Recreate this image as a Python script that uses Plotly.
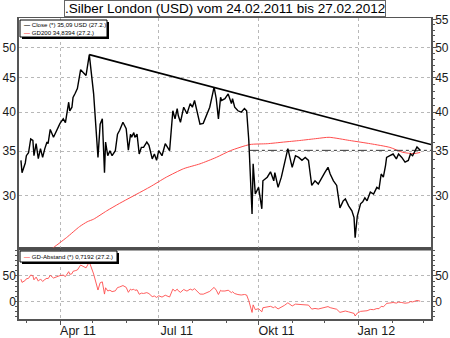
import math
import plotly.graph_objects as go

# ---------------- data ----------------
CLOSE_DATES = [
    "2011-02-24", "2011-02-25", "2011-02-28", "2011-03-01", "2011-03-03", "2011-03-05", "2011-03-07", "2011-03-08", "2011-03-10", "2011-03-12",
    "2011-03-14", "2011-03-16", "2011-03-18", "2011-03-20", "2011-03-21", "2011-03-23", "2011-03-26", "2011-03-27", "2011-03-30", "2011-04-01",
    "2011-04-04", "2011-04-06", "2011-04-09", "2011-04-10", "2011-04-12", "2011-04-13", "2011-04-15", "2011-04-17", "2011-04-20", "2011-04-22",
    "2011-04-25", "2011-04-28", "2011-05-02", "2011-05-06", "2011-05-08", "2011-05-10", "2011-05-12", "2011-05-13", "2011-05-15", "2011-05-17",
    "2011-05-19", "2011-05-22", "2011-05-24", "2011-05-26", "2011-05-29", "2011-06-01", "2011-06-03", "2011-06-05", "2011-06-06", "2011-06-08",
    "2011-06-09", "2011-06-11", "2011-06-13", "2011-06-15", "2011-06-17", "2011-06-20", "2011-06-22", "2011-06-25", "2011-06-27", "2011-06-29",
    "2011-07-01", "2011-07-04", "2011-07-07", "2011-07-11", "2011-07-13", "2011-07-14", "2011-07-16", "2011-07-18", "2011-07-19", "2011-07-21",
    "2011-07-24", "2011-07-27", "2011-07-30", "2011-08-01", "2011-08-03", "2011-08-05", "2011-08-08", "2011-08-11", "2011-08-14", "2011-08-17",
    "2011-08-21", "2011-08-23", "2011-08-25", "2011-08-27", "2011-08-28", "2011-08-31", "2011-09-03", "2011-09-06", "2011-09-07", "2011-09-09",
    "2011-09-12", "2011-09-15", "2011-09-18", "2011-09-20", "2011-09-22", "2011-09-25", "2011-09-26", "2011-09-28", "2011-10-01", "2011-10-04",
    "2011-10-05", "2011-10-09", "2011-10-12", "2011-10-15", "2011-10-16", "2011-10-19", "2011-10-22", "2011-10-25", "2011-10-28", "2011-11-01",
    "2011-11-04", "2011-11-07", "2011-11-10", "2011-11-13", "2011-11-16", "2011-11-19", "2011-11-22", "2011-11-25", "2011-11-28", "2011-12-01",
    "2011-12-04", "2011-12-06", "2011-12-09", "2011-12-12", "2011-12-15", "2011-12-18", "2011-12-20", "2011-12-23", "2011-12-26", "2011-12-28",
    "2011-12-29", "2011-12-31", "2012-01-03", "2012-01-05", "2012-01-07", "2012-01-09", "2012-01-12", "2012-01-15", "2012-01-18", "2012-01-20",
    "2012-01-22", "2012-01-24", "2012-01-26", "2012-01-27", "2012-01-30", "2012-02-02", "2012-02-05", "2012-02-07", "2012-02-10", "2012-02-13",
    "2012-02-16", "2012-02-18", "2012-02-20", "2012-02-22", "2012-02-24", "2012-02-27",
]
CLOSE_VALUES = [
    33.9, 32.5, 33.6, 34.45, 34.8, 36.5, 36.3, 34.45, 35.9, 34.1,
    35.3, 34.25, 35.3, 36.1, 35.9, 37.7, 36.7, 37.0, 38.0, 38.5,
    39.1, 38.6, 41.4, 40.2, 40.7, 42.1, 42.7, 43.4, 46.3, 45.9,
    45.4, 48.76, 42.6, 34.25, 38.4, 39.1, 32.5, 36.1, 34.45, 35.05,
    34.45, 35.05, 37.1, 37.6, 38.65, 37.8, 35.1, 37.1, 36.7, 37.3,
    36.7, 37.1, 34.65, 35.45, 35.45, 36.1, 35.7, 34.08, 34.65, 33.9,
    35.05, 34.45, 35.9, 35.05, 38.2, 40.2, 39.1, 40.5, 39.55, 38.65,
    40.7, 39.8, 41.2, 40.7, 41.65, 40.2, 38.4, 38.5, 39.55, 40.7,
    43.6, 41.9, 39.1, 42.1, 41.65, 41.9, 42.6, 41.2, 41.9, 40.7,
    40.2, 40.0, 40.5, 40.2, 36.3, 28.2, 33.5, 30.2, 30.9, 28.7,
    31.6, 32.0, 32.6, 31.6, 32.5, 30.9, 32.0, 33.5, 35.3, 33.1,
    34.45, 34.25, 33.9, 34.25, 33.9, 31.1, 31.6, 31.25, 31.8, 32.5,
    33.1, 32.35, 31.6, 31.1, 28.8, 29.5, 29.7, 29.0, 28.5, 27.85,
    26.0, 28.0, 29.2, 29.4, 29.8, 29.5, 30.4, 30.2, 30.9, 30.75,
    32.35, 32.0, 33.3, 34.25, 34.45, 34.65, 34.08, 34.65, 34.25, 33.7,
    33.9, 34.65, 34.45, 35.05, 35.5, 35.09,
]
# GD-Abstand (distance of close to the 200-day average, in %), same dates as CLOSE_DATES
ABSTAND_VALUES = [
    43.6, 37.4, 41.2, 44.4, 45.3, 51.8, 50.3, 42.4, 47.7, 39.8,
    44.1, 39.2, 42.9, 45.6, 44.5, 51.1, 45.9, 46.8, 49.6, 50.7,
    51.6, 48.7, 58.3, 53.1, 54.2, 58.9, 60.2, 61.6, 71.2, 68.8,
    65.7, 77.3, 53.8, 22.5, 36.7, 38.4, 14.6, 26.9, 20.7, 22.1,
    19.4, 20.9, 27.3, 28.5, 31.2, 27.7, 18.0, 24.3, 22.7, 24.1,
    21.9, 22.8, 14.2, 16.4, 15.8, 17.4, 15.5, 9.6, 10.9, 8.1,
    11.3, 8.7, 12.4, 8.9, 18.3, 24.3, 20.3, 24.2, 21.1, 18.0,
    23.5, 20.4, 24.3, 22.4, 25.1, 20.4, 14.6, 14.4, 17.0, 19.9,
    27.7, 22.3, 13.8, 22.0, 20.6, 20.6, 22.1, 17.4, 19.2, 15.6,
    13.7, 12.8, 13.8, 12.8, 1.5, -21.2, -6.4, -15.8, -13.8, -20.1,
    -12.0, -10.9, -9.3, -12.1, -9.7, -14.3, -11.4, -7.2, -2.4, -8.6,
    -5.0, -5.6, -6.6, -5.8, -6.9, -14.7, -13.4, -14.5, -13.1, -11.3,
    -9.8, -11.9, -13.8, -15.0, -21.1, -19.1, -18.4, -20.1, -21.4, -23.1,
    -28.2, -22.5, -19.1, -18.4, -17.2, -17.9, -15.3, -15.8, -13.6, -13.9,
    -9.3, -10.1, -6.3, -3.5, -2.8, -1.8, -3.0, -1.1, -1.9, -3.2,
    -2.4, -0.1, -0.7, 1.0, 2.2, 0.72,
]
GD200_DATES = [
    "2011-02-24", "2011-03-10", "2011-03-24", "2011-04-07", "2011-04-19", "2011-04-26", "2011-05-02",
    "2011-05-14", "2011-05-26", "2011-06-23", "2011-07-08", "2011-07-24", "2011-08-08", "2011-08-23",
    "2011-09-05", "2011-09-23", "2011-10-09", "2011-10-24", "2011-11-08", "2011-11-24", "2011-12-05",
    "2011-12-24", "2012-01-12", "2012-01-30", "2012-02-11", "2012-02-21", "2012-02-27",
]
GD200_VALUES = [
    23.6, 24.3, 25.0, 26.0, 27.0, 27.45, 27.7,
    28.5, 29.25, 30.95, 32.0, 32.95, 33.5, 34.25,
    35.05, 35.8, 35.9, 36.1, 36.3, 36.55, 36.7,
    36.3, 35.9, 35.45, 34.85, 34.7, 34.8394,
]
TREND_DATES = ["2011-04-28", "2012-03-07 22:00"]
TREND_VALUES = [48.76, 35.8]
REF_LINE_DATES = ["2011-09-23", "2012-03-07 22:00"]

X_RANGE = ["2011-02-22 05:00", "2012-03-07 22:00"]
X_TICKS = ["2011-04-01", "2011-07-01", "2011-10-01", "2012-01-01"]
X_TICKTEXT = ["Apr 11", "Jul 11", "Okt 11", "Jan 12"]
X_MINOR = ["2011-03-01", "2011-04-01", "2011-05-01", "2011-06-01", "2011-07-01", "2011-08-01",
           "2011-09-01", "2011-10-01", "2011-11-01", "2011-12-01", "2012-01-01", "2012-02-01",
           "2012-03-01"]
Y_LEFT_TICKS = [30, 35, 40, 45, 50]
Y_RIGHT_TICKS = [30, 35, 40, 45, 50, 55]
Y_MINOR = list(range(26, 56))
LOW_TICKS = [0, 50]
LOW_MINOR = [-30, -20, -10, 0, 10, 20, 30, 40, 50, 60, 70, 80, 90, 100]

LEGEND_UPPER = ["Close (*) 35,09 USD (27.2.)", "GD200 34,8394 (27.2.)"]
LEGEND_LOWER = ["GD-Abstand (*) 0,7192 (27.2.)"]
TITLE = ".Silber London (USD) vom 24.02.2011 bis 27.02.2012"

Y_RANGE = [math.log10(25.0), math.log10(55.3)]
LOW_RANGE = [-34, 102.5]

FONT = "Arial, Liberation Sans, sans-serif"
SPLIT = 70 / 301
RED = "#ff4d4d"
FRAME = "#555555"
GRID = "#b8b8b8"

fig = go.Figure()

fig.add_trace(go.Scatter(x=GD200_DATES, y=GD200_VALUES, xaxis="x2", yaxis="y",
                         mode="lines", line=dict(color=RED, width=1, shape="spline", smoothing=0.6),
                         hoverinfo="skip"))
fig.add_trace(go.Scatter(x=REF_LINE_DATES, y=[CLOSE_VALUES[-1]] * 2, xaxis="x2", yaxis="y",
                         mode="lines", line=dict(color="#333333", width=1, dash="dashdot"),
                         hoverinfo="skip"))
fig.add_trace(go.Scatter(x=CLOSE_DATES, y=CLOSE_VALUES, xaxis="x2", yaxis="y",
                         mode="lines", line=dict(color="black", width=1.4), hoverinfo="skip"))
fig.add_trace(go.Scatter(x=TREND_DATES, y=TREND_VALUES, xaxis="x2", yaxis="y",
                         mode="lines", line=dict(color="black", width=1.7), hoverinfo="skip"))
fig.add_trace(go.Scatter(x=CLOSE_DATES, y=ABSTAND_VALUES, xaxis="x", yaxis="y2",
                         mode="lines", line=dict(color=RED, width=0.9), hoverinfo="skip"))
# invisible helper traces so the right-hand axes get drawn
fig.add_trace(go.Scatter(x=[CLOSE_DATES[-1]], y=[CLOSE_VALUES[-1]], xaxis="x2", yaxis="y3",
                         mode="markers", marker=dict(opacity=0), hoverinfo="skip"))
fig.add_trace(go.Scatter(x=[CLOSE_DATES[-1]], y=[ABSTAND_VALUES[-1]], xaxis="x", yaxis="y4",
                         mode="markers", marker=dict(opacity=0), hoverinfo="skip"))

tickfont = dict(family=FONT, size=12, color="#1a1a1a")

fig.update_layout(
    width=450, height=338,
    margin=dict(l=19, r=19, t=18, b=19, autoexpand=False),
    paper_bgcolor="white", plot_bgcolor="white",
    showlegend=False,
    xaxis=dict(type="date", range=X_RANGE, anchor="y2", domain=[0, 1], automargin=False,
               tickmode="array", tickvals=X_TICKS, ticktext=X_TICKTEXT,
               ticks="outside", ticklen=4, tickcolor=FRAME,
               tickfont=dict(family=FONT, size=12.5, color="#1a1a1a"),
               ticklabelshift=18, ticklabelstandoff=-5,
               showgrid=True, gridcolor=GRID, griddash="dot", gridwidth=1,
               showline=True, linecolor=FRAME, linewidth=1.5, mirror=True,
               minor=dict(tickmode="array", tickvals=X_MINOR, ticks="outside", ticklen=2,
                          tickcolor=FRAME, showgrid=False),
               zeroline=False),
    xaxis2=dict(type="date", range=X_RANGE, anchor="y", matches="x", domain=[0, 1], automargin=False,
                tickmode="array", tickvals=X_TICKS, showticklabels=False, ticks="",
                showgrid=True, gridcolor=GRID, griddash="dot", gridwidth=1,
                showline=True, linecolor=FRAME, linewidth=1, mirror=True, zeroline=False),
    yaxis=dict(type="log", range=Y_RANGE, domain=[SPLIT, 1], anchor="x2", side="left", automargin=False,
               tickmode="array", tickvals=Y_LEFT_TICKS, tickfont=tickfont,
               ticks="", ticklabelstandoff=-1,
               showgrid=True, gridcolor=GRID, griddash="dot", gridwidth=1,
               showline=True, linecolor=FRAME, linewidth=1.5, mirror=True, zeroline=False),
    yaxis3=dict(type="log", range=Y_RANGE, domain=[SPLIT, 1], overlaying="y", anchor="x2", side="right",
                automargin=False,
                tickmode="array", tickvals=Y_RIGHT_TICKS, tickfont=tickfont,
                ticks="outside", ticklen=3, tickcolor=FRAME, showgrid=False,
                ticklabelstandoff=-3,
                minor=dict(tickmode="array", tickvals=Y_MINOR, ticks="outside", ticklen=2,
                           tickcolor=FRAME, showgrid=False),
                showline=True, linecolor=FRAME, linewidth=1.5, zeroline=False),
    yaxis2=dict(range=LOW_RANGE, domain=[0, SPLIT], anchor="x", side="left", automargin=False,
                tickmode="array", tickvals=LOW_TICKS, tickfont=tickfont,
                ticks="", ticklabelstandoff=-1,
                minor=dict(tickmode="array", tickvals=LOW_MINOR, ticks="outside", ticklen=2,
                           tickcolor=FRAME, showgrid=False),
                showgrid=True, gridcolor=GRID, griddash="dot", gridwidth=1,
                showline=True, linecolor=FRAME, linewidth=1.5, mirror=True, zeroline=False),
    yaxis4=dict(range=LOW_RANGE, domain=[0, SPLIT], overlaying="y2", anchor="x", side="right",
                automargin=False,
                tickmode="array", tickvals=LOW_TICKS, tickfont=tickfont,
                ticks="outside", ticklen=3, tickcolor=FRAME, showgrid=False,
                ticklabelstandoff=-3,
                minor=dict(tickmode="array", tickvals=LOW_MINOR, ticks="outside", ticklen=2,
                           tickcolor=FRAME, showgrid=False),
                showline=True, linecolor=FRAME, linewidth=1.5, zeroline=False),
)

# separator between the two panels
fig.add_shape(type="line", xref="paper", yref="paper", x0=0, x1=1, y0=SPLIT, y1=SPLIT,
              line=dict(color="#4d4d4d", width=3))

# title box
fig.add_annotation(text=TITLE,
                   xref="paper", yref="paper", x=0.5, y=1, xanchor="center", yanchor="bottom",
                   yshift=1, showarrow=False, font=dict(family=FONT, size=13.5, color="black"),
                   bgcolor="white", bordercolor="#666666", borderwidth=1, borderpad=0)


def legend_box(anchor_y, width, height, lines, colors, first_y, step):
    # shadow (right / bottom)
    fig.add_shape(type="rect", xref="paper", yref="paper", layer="above",
                  xsizemode="pixel", xanchor=0, x0=3, x1=3 + width,
                  ysizemode="pixel", yanchor=anchor_y, y0=-4, y1=-4 - height,
                  fillcolor="black", line=dict(width=0))
    # white box
    fig.add_shape(type="rect", xref="paper", yref="paper", layer="above",
                  xsizemode="pixel", xanchor=0, x0=1, x1=1 + width,
                  ysizemode="pixel", yanchor=anchor_y, y0=-2, y1=-2 - height,
                  fillcolor="white", line=dict(color="black", width=1))
    for i, (txt, col) in enumerate(zip(lines, colors)):
        fig.add_annotation(text="<span style='color:" + col + "'><b>—</b></span> " + txt,
                           xref="paper", yref="paper", x=0, y=anchor_y,
                           xanchor="left", yanchor="middle", xshift=3,
                           yshift=first_y - i * step,
                           showarrow=False, align="left",
                           font=dict(family=FONT, size=6.1, color="black"))


legend_box(1, 87, 17, LEGEND_UPPER, ["black", RED], -6.5, 8)
legend_box(SPLIT, 97, 11, LEGEND_LOWER, [RED], -7.5, 8)

fig.write_html("out.html")
